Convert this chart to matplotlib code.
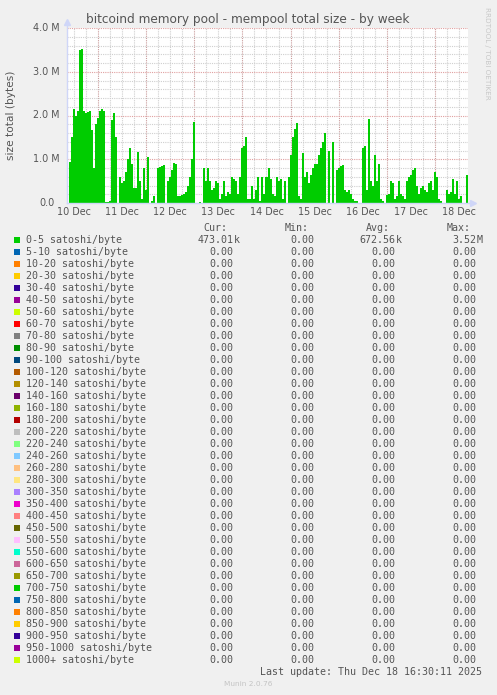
import numpy as np
import matplotlib
matplotlib.use("Agg")
import matplotlib.pyplot as plt
from matplotlib.patches import Rectangle

# ---------------- data ----------------
title = "bitcoind memory pool - mempool total size - by week"
ylabel = "size total (bytes)"
start_day = 10 + 8.5 / 24          # Dec 10 08:30
end_day = 18 + 16.5 / 24           # Dec 18 16:30
step_hours = 1.0

# hourly mempool size (MB) for the 0-5 satoshi/byte band
size_m = [
    0.0, 0.94, 1.5, 2.16, 2.0, 2.1, 3.5, 3.52, 2.1, 2.05,
    2.08, 2.1, 1.67, 0.8, 1.8, 1.95, 2.1, 2.16, 2.1, 0.03,
    0.03, 0.05, 1.9, 2.05, 1.5, 0.0, 0.6, 0.45, 0.5, 0.7,
    1.0, 1.25, 0.9, 0.35, 0.35, 1.17, 0.5, 0.1, 0.8, 0.3,
    1.05, 0.0, 0.05, 0.15, 0.0, 0.8, 0.82, 0.84, 0.86, 0.0,
    0.5, 0.6, 0.75, 0.92, 0.9, 0.15, 0.15, 0.18, 0.2, 0.25,
    0.4, 0.6, 1.0, 1.85, 0.0, 0.0, 0.02, 0.0, 0.8, 0.5,
    0.8, 0.5, 0.3, 0.35, 0.5, 0.45, 0.1, 0.2, 0.5, 0.15,
    0.25, 0.2, 0.6, 0.55, 0.5, 0.2, 0.6, 1.25, 1.3, 1.5,
    0.1, 0.1, 0.4, 0.1, 0.3, 0.6, 0.05, 0.6, 0.2, 0.6,
    0.8, 0.55, 0.2, 0.15, 0.6, 0.5, 0.55, 0.1, 0.5, 0.0,
    0.6, 1.1, 1.5, 1.7, 1.82, 0.15, 0.1, 1.14, 0.6, 0.7,
    0.45, 0.65, 0.8, 0.9, 0.9, 1.1, 1.25, 1.4, 1.6, 0.0,
    1.2, 0.0, 1.4, 0.0, 0.75, 0.8, 0.85, 0.88, 0.3, 0.25,
    0.3, 0.2, 0.1, 0.05, 0.05, 0.0, 0.0, 1.25, 1.3, 0.3,
    1.92, 0.5, 0.4, 1.1, 0.5, 0.9, 0.1, 0.05, 0.0, 0.18,
    0.2, 0.5, 0.45, 0.1, 0.15, 0.5, 0.2, 0.15, 0.1, 0.5,
    0.6, 0.65, 0.75, 0.8, 0.4, 0.2, 0.35, 0.4, 0.3, 0.25,
    0.45, 0.5, 0.3, 0.72, 0.6, 0.1, 0.05, 0.0, 0.0, 0.3,
    0.2, 0.25, 0.55, 0.2, 0.5, 0.1, 0.15, 0.0, 0.0, 0.65,
    0.47,
]

day_ticks = [10.5, 11.5, 12.5, 13.5, 14.5, 15.5, 16.5, 17.5, 18.5]
day_labels = ["10 Dec", "11 Dec", "12 Dec", "13 Dec", "14 Dec",
              "15 Dec", "16 Dec", "17 Dec", "18 Dec"]
y_ticks = [0, 1e6, 2e6, 3e6, 4e6]
y_labels = ["0.0", "1.0 M", "2.0 M", "3.0 M", "4.0 M"]

series_labels = [
    "0-5", "5-10", "10-20", "20-30", "30-40", "40-50", "50-60", "60-70",
    "70-80", "80-90", "90-100", "100-120", "120-140", "140-160", "160-180",
    "180-200", "200-220", "220-240", "240-260", "260-280", "280-300",
    "300-350", "350-400", "400-450", "450-500", "500-550", "550-600",
    "600-650", "650-700", "700-750", "750-800", "800-850", "850-900",
    "900-950", "950-1000", "1000+",
]
palette = [
    "#00CC00", "#0066B3", "#FF8000", "#FFCC00", "#330099", "#990099",
    "#CCFF00", "#FF0000", "#808080", "#008F00", "#00487D", "#B35A00",
    "#B38F00", "#6B006B", "#8FB300", "#B30000", "#BEBEBE", "#80FF80",
    "#80C9FF", "#FFC080", "#FFE680", "#AA80FF", "#EE00CC", "#FF8080",
    "#666600", "#FFBFFF", "#00FFCC", "#CC6699", "#999900",
]
cur_vals = ["473.01", "0.00"]
cur_units = ["k", ""]
min_vals = ["0.00", "0.00"]
min_units = ["", ""]
avg_vals = ["672.56", "0.00"]
avg_units = ["k", ""]
max_vals = ["3.52", "0.00"]
max_units = ["M", ""]
last_update = "Last update: Thu Dec 18 16:30:11 2025"
version = "Munin 2.0.76"

# ---------------- figure ----------------
W, H = 497, 695
fig = plt.figure(figsize=(W / 100, H / 100), dpi=100, facecolor="#F0F0F0")

def fx(px):
    return px / W

def fy(py):
    return 1 - py / H

left, right, top, bottom = 67, 468, 28, 203
ax = fig.add_axes([fx(left), fy(bottom), (right - left) / W, (bottom - top) / H])
ax.set_facecolor("white")

t = start_day + np.arange(len(size_m)) * step_hours / 24.0
v = np.array(size_m) * 1e6
ax.fill_between(t, 0, v, step="post", color=palette[0], linewidth=0,
                antialiased=False, zorder=2)

ax.set_xlim(start_day, end_day)
ax.set_ylim(0, 4e6)

# grid
dot = (0, (1, 1))
for h in np.arange(np.ceil(start_day * 4) / 4, end_day, 0.25):
    if abs(h - round(h)) < 1e-6:
        ax.axvline(h, color="#C89A9A", lw=0.8, ls=dot, zorder=1)
    else:
        ax.axvline(h, color="#CFCFCF", lw=0.8, ls=dot, zorder=1)
for yv in np.arange(0.2e6, 4.01e6, 0.2e6):
    if abs(yv / 1e6 - round(yv / 1e6)) < 1e-6:
        ax.axhline(yv, color="#E0A0A0", lw=0.8, ls=dot, zorder=1)
    else:
        ax.axhline(yv, color="#CFCFCF", lw=0.8, ls=dot, zorder=1)

for s in ax.spines.values():
    s.set_visible(False)
axis_col = "#CFD6F8"
ax.plot([0, 0], [0, 1.03], transform=ax.transAxes, color=axis_col, lw=1.0,
        clip_on=False, zorder=3)
ax.plot([0, 1.01], [0, 0], transform=ax.transAxes, color=axis_col, lw=1.0,
        clip_on=False, zorder=3)
ax.plot([0], [1.035], marker="^", ms=4, color=axis_col, transform=ax.transAxes,
        clip_on=False, zorder=3)
ax.plot([1.013], [0], marker=">", ms=4, color=axis_col, transform=ax.transAxes,
        clip_on=False, zorder=3)

txt_col = "#555555"
ax.set_xticks(day_ticks)
ax.set_xticklabels(day_labels, fontsize=6.9, color=txt_col)
ax.tick_params(axis="x", length=0, pad=3)
ax.set_yticks([])
for yv, lab in zip(y_ticks, y_labels):
    ax.annotate(lab, xy=(0, yv), xycoords=("axes fraction", "data"),
                xytext=(-5.2 if lab != "0.0" else -8.8, 0), textcoords="offset points",
                ha="right", va="center", fontsize=6.9, color=txt_col)

fig.text(fx(248), fy(19), title, ha="center", va="center", fontsize=8.7, color=txt_col)
fig.text(fx(11), fy(115), ylabel, rotation=90, ha="center", va="center",
         fontsize=7.6, color=txt_col)
fig.text(fx(487), fy(53), "RRDTOOL / TOBI OETIKER", rotation=270, ha="center",
         va="center", fontsize=5.2, color="#C8C8C8")

# ---------------- legend ----------------
mono = "DejaVu Sans Mono"
fs = 7.2
headers = ["Cur:", "Min:", "Avg:", "Max:"]
header_x = [203, 285, 366, 447]
for hx, htxt in zip(header_x, headers):
    fig.text(fx(hx), fy(228), htxt, family=mono, fontsize=fs, color=txt_col,
             ha="left", va="center")

col_right = [233.5, 314.5, 395.5, 476.5]
for k, lab in enumerate(series_labels):
    yrow = 240 + 12 * k
    col = palette[k % len(palette)]
    fig.add_artist(Rectangle((fx(14), fy(yrow + 3)), 6 / W, 6 / H,
                             transform=fig.transFigure, facecolor=col,
                             edgecolor="none"))
    fig.text(fx(26), fy(yrow), f"{lab} satoshi/byte", family=mono, fontsize=fs,
             color=txt_col, ha="left", va="center")
    j = 0 if k == 0 else 1
    cols = [(cur_vals[j], cur_units[j]), (min_vals[j], min_units[j]),
            (avg_vals[j], avg_units[j]), (max_vals[j], max_units[j])]
    for cx, (num, unit) in zip(col_right, cols):
        fig.text(fx(cx), fy(yrow), num, family=mono, fontsize=fs, color=txt_col,
                 ha="right", va="center")
        if unit:
            fig.text(fx(cx + 0.5), fy(yrow), unit, family=mono, fontsize=fs,
                     color=txt_col, ha="left", va="center")

fig.text(fx(482), fy(672), last_update, family=mono, fontsize=fs, color=txt_col,
         ha="right", va="center")
fig.text(fx(248), fy(684), version, fontsize=5.3, color="#C4C4C4",
         ha="center", va="center")

fig.savefig("out.png", dpi=100, facecolor=fig.get_facecolor())
